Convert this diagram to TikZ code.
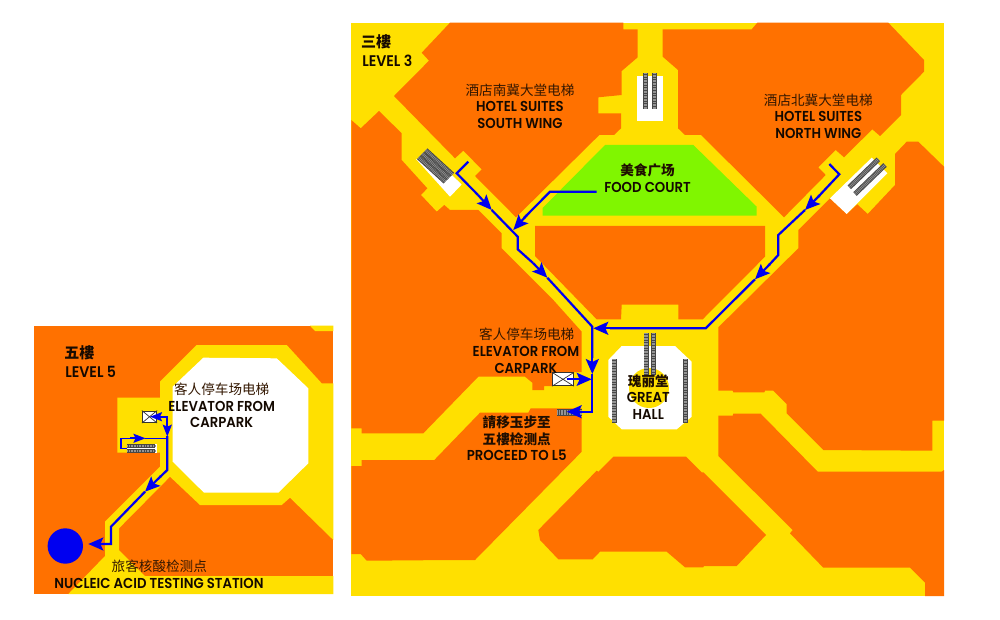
\documentclass[tikz,border=0pt]{standalone}
\usepackage{fontspec}
\setmainfont{Poppins}[BoldFont={Poppins SemiBold},FakeStretch=0.92]
\newfontfamily\cjk{Noto Sans CJK SC}
\usetikzlibrary{arrows.meta}
\definecolor{mapor}{RGB}{255,113,0}
\definecolor{mapye}{RGB}{255,224,0}
\definecolor{mapgr}{RGB}{128,246,0}
\definecolor{mapbl}{RGB}{0,0,240}
\tikzset{
  orangeblock/.style={fill=mapor,draw=none},
  yellowblock/.style={fill=mapye,draw=none},
  whiteblock/.style={fill=white,draw=none},
  route/.style={draw=mapbl,line width=2.2pt,line join=miter},
  routearrow/.style={route,-{Stealth[length=15pt,width=13pt,inset=3pt]}},
  routesmall/.style={route,line width=1.8pt,-{Stealth[length=12pt,width=9pt,inset=2pt]}},
  escbase/.style={draw=black!72,line width=#1},
  escbase/.default=4pt,
  escrung/.style={draw=black!42,line width=#1,dash pattern=on .7pt off .9pt},
  escrung/.default=2.4pt,
  ltxt/.style={font=\bfseries\fontsize{14.4}{14.4}\selectfont,inner sep=0pt,text=black!92!mapor,anchor=center},
  ctxt/.style={font=\cjk\fontsize{13.6}{13.6}\selectfont,inner sep=0pt,text=black!80!mapor,anchor=center},
  cbold/.style={font=\cjk\bfseries\fontsize{13.6}{13.6}\selectfont,inner sep=0pt,text=black!88!mapor,anchor=center},
  chead/.style={font=\cjk\bfseries\fontsize{15}{15}\selectfont,inner sep=0pt,text=black!90!mapor,anchor=center},
  lhead/.style={font=\bfseries\fontsize{15.4}{15.4}\selectfont,inner sep=0pt,text=black!92!mapor,anchor=center},
  liftbox/.style={draw=black!80,line width=.8pt,fill=white},
}
\newcommand{\escal}[3][5pt]{\draw[escbase=#1] #2 -- #3; \draw[escrung=3.2pt] #2 -- #3;}
\begin{document}
\begin{tikzpicture}[x=1pt,y=-1pt]
\useasboundingbox (0,0) rectangle (1000,620);
% ---------- LEVEL 3 ----------
\fill[yellowblock] (351.3,22.7) rectangle (944,596);
% hotel south block
\fill[orangeblock] (450,22.7)--(623.3,22.7)--(623.3,29.3)--(637.7,29.3)--(637.7,57.3)--(621.7,71)--(621.7,95)--(598.3,97.3)--(598.3,113.3)--(621,113.3)--(621,128.3)--(614,135)--(599.3,135)--(516,217.3)--(475,176)--(481.7,169.3)--(463.3,150.7)--(455,158.3)--(394,96)--(429,60.7)--(421.7,52.7)--cycle;
% west block
\fill[orangeblock] (351.3,120)--(360.7,128.3)--(379,111)--(401.7,133.3)--(401.7,160)--(427.3,188.3)--(421,195)--(436.7,211.7)--(444.3,205)--(450,210)--(478.3,210)--(501.7,233.3)--(501.7,248.3)--(553.3,300)--(581.7,331.7)--(581.7,372)--(552,372)--(552,386)--(544,386)--(544,390)--(532.3,390)--(532.3,382.7)--(525,376.7)--(478.3,376.7)--(423.3,433.3)--(361.7,433.3)--(361.7,428.3)--(351.3,428.3)--cycle;
% south-west block
\fill[orangeblock] (351.3,466)--(361.7,466)--(361.7,460)--(434.3,460)--(480,412.7)--(528.3,412.7)--(530.7,408.3)--(581.7,408.3)--(581.7,451.7)--(475,560)--(453.3,560)--(366.7,560.7)--(360.7,554)--(351.3,554)--cycle;
% bottom middle block
\fill[orangeblock] (538.3,530)--(540,540)--(558.3,559.3)--(592.7,559.3)--(600,551.7)--(666.7,551.7)--(685,567.3)--(703.3,567.3)--(704,566)--(736.7,566)--(766,535)--(703.3,472.3)--(701.7,472.3)--(686,456.7)--(613.3,456.7)--(598.3,471.7)--(596.7,470.7)--cycle;
% east upper block
\fill[orangeblock] (718.3,327.3)--(718.3,390.7)--(732.7,390.7)--(733.3,392.3)--(764.3,392.3)--(765,390.7)--(773.3,390.7)--(786.7,404)--(786.7,413.3)--(823.3,450)--(932.3,450.7)--(932.3,420.7)--(944,420.7)--(944,166.7)--(918.3,141.7)--(906.7,141.7)--(895,154)--(895,185)--(867.7,214)--(857.3,204.3)--(846.7,214)--(830,198.3)--(798.3,230)--(798.3,248.3)--(746,300)--cycle;
% east lower block
\fill[orangeblock] (718.3,415.7)--(732.7,415.7)--(733.3,413.7)--(760.7,413.7)--(817.7,471.7)--(941.7,471.7)--(944,470)--(944,596)--(925,596)--(925,582.7)--(910,567.7)--(823.3,567.7)--(790,533.3)--(792.7,530)--(718.3,456)--cycle;
% hotel north block
\fill[orangeblock] (757.3,22.7)--(888.3,22.7)--(924,60)--(924,71.7)--(901,95)--(901,115)--(880,136)--(872.3,129.3)--(844,157.3)--(835.7,150)--(818.3,167.3)--(825.7,175)--(784,217.3)--(701,135)--(685,135)--(678,128.3)--(678,70)--(662.7,56.7)--(662.7,29.3)--(751.7,29.3)--cycle;
% central block
\fill[orangeblock] (535,226)--(765,226)--(765,256.7)--(702.7,319.3)--(678.3,319.3)--(678.3,304.7)--(621.7,304.7)--(621,319.3)--(596.7,319.3)--(535,256)--cycle;
% food court
\fill[fill=mapgr] (605,145)--(693.3,145)--(756.7,206.7)--(756.7,215.7)--(542.7,215.7)--(542.7,208)--cycle;
% white areas
\fill[whiteblock] (636.7,76) rectangle (662.7,120.7);
\fill[whiteblock] (416,159)--(450,196.7)--(461.7,184.5)--(436,160)--cycle;
\fill[whiteblock] (830,198.3)--(846.7,214)--(887.3,173.3)--(871.7,157.7)--cycle;
\fill[whiteblock] (621.7,346)--(675,346)--(691.7,361.7)--(691.7,416.7)--(676.7,429.3)--(621.7,429.3)--(608.3,416.7)--(608.3,360)--cycle;
\fill[yellowblock] (649,388) circle (20);
% escalators
\escal{(645.2,73.3)}{(645.2,109)}
\escal{(654.2,73.3)}{(654.2,109)}
\escal{(418.7,157.3)}{(445.3,181.7)}
\escal{(422.2,153.7)}{(448.9,178.1)}
\escal{(425.7,150.2)}{(452.4,174.6)}
\escal{(849.3,187.3)}{(878.3,159.3)}
\escal{(855,194)}{(885,165)}
\escal{(614,359)}{(614,422.7)}
\escal{(685.3,359)}{(685.3,422.7)}
\escal{(646,333)}{(646,375)}
\escal{(653.6,333)}{(653.6,375)}
\draw[escbase=7pt] (557.3,412) -- (581.7,412);
\draw[escrung=5pt] (557.3,412) -- (581.7,412);
% elevator box level 3
\node[liftbox,minimum width=21pt,minimum height=13pt,inner sep=0pt] (lift3) at (563,379.3) {};
\draw[black!80,line width=.7pt] (lift3.north west)--(lift3.south east) (lift3.south west)--(lift3.north east);
% routes level 3
\coordinate (junc3) at (592.3,326.7);
\draw[route] (468.3,161.7)--(456.7,173.3)--(478,195);
\draw[routearrow] (478,195)--(491.7,210);
\draw[route] (491.7,210)--(517.7,236.7)--(517.7,249.3)--(533,263);
\draw[routearrow] (533,263)--(547.3,277.7);
\draw[route] (547.3,277.7)--(junc3)--(592.3,358);
\draw[routearrow] (592.3,356)--(592.3,374);
\draw[route] (592.3,374)--(592.3,411.7)--(580,411.7);
\draw[routearrow] (582,411.7)--(566.7,411.7);
\draw[route] (596.7,191.7)--(550,191.7)--(524,218);
\draw[routearrow] (527,215)--(513.3,230);
\draw[route] (829.3,164)--(839.3,174.3)--(818,197);
\draw[routearrow] (820,195)--(805,210);
\draw[route] (805,210)--(778.3,235)--(778.3,255)--(769,265);
\draw[routearrow] (770,264)--(755,279.3);
\draw[route] (755,279.3)--(705.7,328.3)--(610,328.3);
\draw[routearrow] (611,328.3)--(593.3,328.3);
\draw[route] (566.7,379.3)--(578,379.3);
\draw[routearrow] (575,379.3)--(591.7,379.3);
% labels level 3
\node[chead] (l3c) at (376,41.7) {三樓};
\node[lhead] (l3e) at (387.3,60.7) {LEVEL 3};
\node[ctxt] (sc) at (520,90) {酒店南冀大堂电梯};
\node[ltxt] (s1) at (520,106.7) {HOTEL SUITES};
\node[ltxt] (s2) at (520,123.3) {SOUTH WING};
\node[ctxt] (nc) at (818.3,100.7) {酒店北冀大堂电梯};
\node[ltxt] (n1) at (818.3,116.7) {HOTEL SUITES};
\node[ltxt] (n2) at (818.3,133.3) {NORTH WING};
\node[cbold] (fc) at (647.5,170.7) {美食广场};
\node[ltxt] (f1) at (647.5,187.3) {FOOD COURT};
\node[ctxt] (ec) at (526.7,334) {客人停车场电梯};
\node[ltxt] (e1) at (526,351.7) {ELEVATOR FROM};
\node[ltxt] (e2) at (526,368.3) {CARPARK};
\node[cbold] (pc1) at (516.7,422.7) {請移玉步至};
\node[cbold] (pc2) at (516.7,439.3) {五樓检测点};
\node[ltxt] (p1) at (516.7,455.7) {PROCEED TO L5};
\node[cbold] (gc) at (648.3,381) {瑰丽堂};
\node[ltxt] (g1) at (648.3,397.7) {GREAT};
\node[ltxt] (g2) at (648.3,414.3) {HALL};
% ---------- LEVEL 5 ----------
\fill[orangeblock] (34.3,325.7) rectangle (333.3,594);
\fill[yellowblock] (310,325.7)--(333.3,325.7)--(333.3,331)--(315,331)--cycle;
\fill[yellowblock] (196.7,345)--(286.7,345)--(321.7,383.3)--(333.3,383.3)--(333.3,540)--(290,497.7)--(281.7,505)--(200,505)--(170,476.7)--(119,528.3)--(119,550)--(145,576)--(333.3,576)--(333.3,594)--(68.3,594)--(105,556)--(105,521.7)--(160,466.7)--(160,452.7)--(117.3,452.7)--(117.3,397.7)--(160,397.7)--(160,381.7)--cycle;
\fill[whiteblock] (203.3,357.7)--(276.7,358.3)--(308.3,388.3)--(308.3,463.3)--(278.3,492.7)--(204,492.7)--(172.7,461.7)--(172.7,386.7)--cycle;
\fill[whiteblock] (127.3,444.3) rectangle (157,452.7);
\draw[escbase=3.4pt] (127.3,446) -- (155,446);
\draw[escrung=2.2pt] (127.3,446) -- (155,446);
\draw[escbase=3.4pt] (127.3,450.8) -- (155,450.8);
\draw[escrung=2.2pt] (127.3,450.8) -- (155,450.8);
\node[liftbox,minimum width=14.4pt,minimum height=11.7pt,inner sep=0pt] (lift5) at (149.5,416.8) {};
\draw[black!80,line width=.7pt] (lift5.north west)--(lift5.south east) (lift5.south west)--(lift5.north east);
\draw[route] (167.3,425)--(167.3,416.7)--(158,416.7);
\draw[routesmall] (160,416.7)--(150,416.7);
\draw[routesmall] (167.3,424)--(167.3,436.7);
\draw[route] (167.3,436)--(167.3,470)--(160,477);
\draw[routearrow] (161,476)--(145,491.7);
\draw[route] (145,491.7)--(111,526.7)--(111,544)--(100,544);
\draw[routearrow] (104,544)--(88.3,544);
\draw[route,line width=1.6pt] (127.3,448.3)--(120.7,448.3)--(120.7,438.3)--(135,438.3);
\draw[routesmall] (130,438.3)--(145.5,438.3);
\draw[route,line width=1.6pt] (145,438.3)--(167.3,438.3);
\fill[mapbl] (65.3,546) circle (17.7);
\node[chead] (l5c) at (79.3,352.7) {五樓};
\node[lhead] (l5e) at (90.7,371.7) {LEVEL 5};
\node[ctxt] (ec5) at (221.7,389.3) {客人停车场电梯};
\node[ltxt] (e15) at (221.7,406) {ELEVATOR FROM};
\node[ltxt] (e25) at (221.7,422.3) {CARPARK};
\node[ctxt] (nc5) at (159.3,566.7) {旅客核酸检测点};
\node[ltxt] (n15) at (159,583.3) {NUCLEIC ACID TESTING STATION};
\end{tikzpicture}
\end{document}
